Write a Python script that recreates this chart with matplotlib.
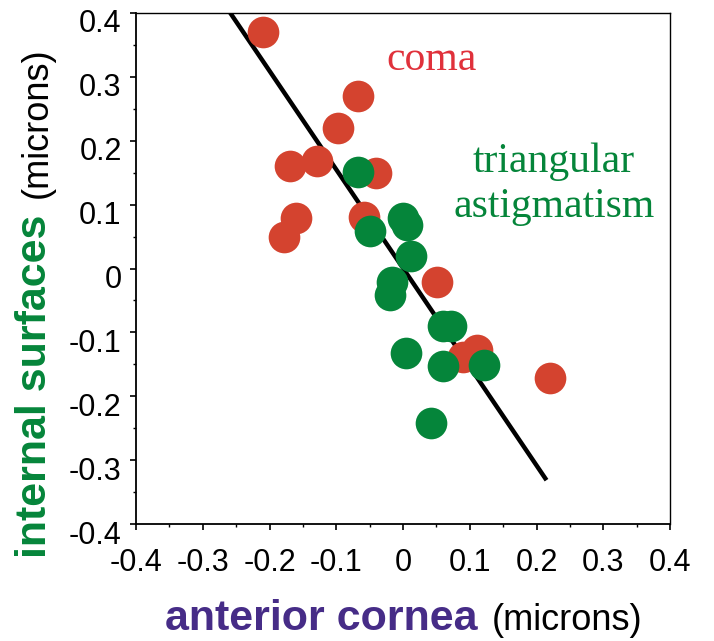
import matplotlib
matplotlib.use("Agg")
import matplotlib.pyplot as plt
import matplotlib.transforms as mtransforms
from matplotlib.ticker import MultipleLocator

plt.rcParams['font.family'] = ['Liberation Sans', 'DejaVu Sans']
plt.rcParams['axes.unicode_minus'] = False

# coma: anterior cornea vs internal surfaces (microns)
coma_x = [-0.210, -0.067, -0.097, -0.169, -0.129, -0.040, -0.160, -0.178,
          -0.058, 0.051, 0.090, 0.111, 0.220]
coma_y = [0.370, 0.270, 0.219, 0.160, 0.168, 0.149, 0.079, 0.049,
          0.081, -0.021, -0.138, -0.128, -0.171]

# triangular astigmatism
tri_x = [-0.068, -0.049, 0.000, 0.006, 0.012, -0.017, -0.019, 0.060,
         0.072, 0.004, 0.060, 0.122, 0.042]
tri_y = [0.151, 0.059, 0.079, 0.068, 0.020, -0.021, -0.041, -0.090,
         -0.090, -0.132, -0.152, -0.151, -0.242]

# regression line endpoints
fit_x = [-0.259, 0.215]
fit_y = [0.400, -0.331]

ticks = [-0.4, -0.3, -0.2, -0.1, 0, 0.1, 0.2, 0.3, 0.4]
tick_labels = ['-0.4', '-0.3', '-0.2', '-0.1', '0', '0.1', '0.2', '0.3', '0.4']

red = '#d4432f'
green = '#05853a'
purple = '#462c87'

W, H = 714, 641
fig = plt.figure(figsize=(W / 100, H / 100), dpi=100)
ax = fig.add_axes([136 / W, 1 - 524.3 / H, 534 / W, 511.6 / H])

ax.plot(fit_x, fit_y, color='black', lw=3.2, solid_capstyle='butt', zorder=1)
ax.scatter(coma_x, coma_y, s=520, color=red, linewidths=0, zorder=2)
ax.scatter(tri_x, tri_y, s=520, color=green, linewidths=0, zorder=3)

ax.set_xlim(-0.4, 0.4)
ax.set_ylim(-0.4, 0.4)
ax.set_xticks(ticks, tick_labels)
ax.set_yticks(ticks, tick_labels)
ax.xaxis.set_minor_locator(MultipleLocator(0.05))
ax.yaxis.set_minor_locator(MultipleLocator(0.05))
ax.tick_params(which='major', direction='out', length=4.3, width=1.2,
               labelsize=22, top=False, right=False)
ax.tick_params(which='minor', direction='out', length=2.2, width=1.0,
               top=False, right=False)
ax.tick_params(axis='x', which='major', pad=13)
ax.tick_params(axis='y', which='major', pad=6)
for side in ['left', 'bottom']:
    ax.spines[side].set_linewidth(1.3)
for side in ['top', 'right']:
    ax.spines[side].set_linewidth(1.0)

off = mtransforms.ScaledTranslation(0, -8 / 100, fig.dpi_scale_trans)
for lab in ax.get_yticklabels():
    lab.set_transform(lab.get_transform() + off)

ax.text(0.043, 0.310, 'coma', color='#e0313b', fontsize=30,
        family='Liberation Serif', ha='center', va='baseline')
ax.text(0.226, 0.151, 'triangular', color=green, fontsize=30,
        family='Liberation Serif', ha='center', va='baseline')
ax.text(0.226, 0.0805, 'astigmatism', color=green, fontsize=30,
        family='Liberation Serif', ha='center', va='baseline')

# axis titles
fig.text(46.5 / W, 1 - 558 / H, 'internal surfaces', rotation=90,
         rotation_mode='anchor', ha='left', va='baseline',
         fontsize=31, fontweight='bold', color=green)
fig.text(46.5 / W, 1 - 198 / H, '(microns)', rotation=90,
         rotation_mode='anchor', ha='left', va='baseline',
         fontsize=26, color='black')
fig.text(165 / W, 1 - 630 / H, 'anterior cornea', ha='left', va='baseline',
         fontsize=31, fontweight='bold', color=purple)
fig.text(492 / W, 1 - 630 / H, '(microns)', ha='left', va='baseline',
         fontsize=26, color='black')

fig.savefig('out.png', dpi=100)
